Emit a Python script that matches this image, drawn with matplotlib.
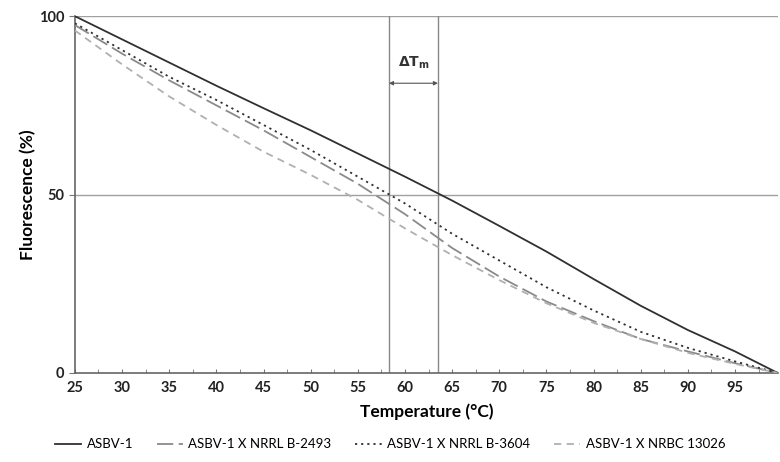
import numpy as np
import matplotlib.pyplot as plt
from matplotlib.ticker import MultipleLocator

plt.rcParams['font.family'] = ['Lato', 'DejaVu Sans']

# --- data ---
temp = [25, 30, 35, 40, 45, 50, 55, 60, 65, 70, 75, 80, 85, 90, 95, 99.5]
asbv1 = [100, 93.5, 87, 80.5, 74.2, 68, 61.5, 55, 48.3, 41.2, 34, 26.3, 18.8, 12, 6, 0]
b2493 = [97.5, 89.5, 82, 75, 68, 60.5, 53, 44.5, 35, 27, 20, 14.5, 9.5, 6, 2.7, 0]
b3604 = [98, 90.5, 83, 76.5, 69.5, 62.5, 55, 47.5, 39, 31.5, 24, 17.5, 11.5, 7, 3.2, 0]
nrbc13026 = [96, 86.5, 77.5, 69.5, 62, 55.5, 48.5, 40.5, 33, 26, 19.5, 14, 9.5, 5.6, 2.5, 0]

tm_low = 58.3
tm_high = 63.5

fig = plt.figure(figsize=(7.8, 4.62), dpi=100)
ax = fig.add_axes([0.096, 0.193, 0.902, 0.772])

# reference lines
for y in (50, 100):
    ax.axhline(y, color='#a0a0a0', lw=1.0, zorder=1)
for x in (tm_low, tm_high):
    ax.plot([x, x], [0, 100], color='#888888', lw=1.0, zorder=1)

ax.plot(temp, asbv1, color='#303030', lw=1.3, label='ASBV-1', zorder=3)
ax.plot(temp, b2493, color='#8a8a8a', lw=1.3, dashes=(9, 3),
        label='ASBV-1 X NRRL B-2493', zorder=3)
ax.plot(temp, b3604, color='#303030', lw=1.3, dashes=(1.2, 2.2),
        label='ASBV-1 X NRRL B-3604', zorder=3)
ax.plot(temp, nrbc13026, color='#b0b0b0', lw=1.3, dashes=(4, 3),
        label='ASBV-1 X NRBC 13026', zorder=3)

# delta Tm marker
ax.annotate('', xy=(tm_low, 81.2), xytext=(tm_high, 81.2),
            arrowprops=dict(arrowstyle='<|-|>', color='#555555', lw=0.8,
                            mutation_scale=6, shrinkA=0, shrinkB=0))
ax.text((tm_low + tm_high) / 2, 84.5, r'$\mathbf{\Delta T_m}$', ha='center', va='bottom',
        fontsize=10, color='#333333')

ax.set_xlim(25, 99.6)
ax.set_ylim(0, 100)
ax.set_xticks(range(25, 100, 5))
ax.xaxis.set_minor_locator(MultipleLocator(2.5))
ax.set_yticks([0, 50, 100])
ax.tick_params(axis='x', which='both', direction='in', length=3, color='#777777',
               labelsize=10.5, pad=6)
ax.tick_params(axis='y', direction='out', length=4, color='#777777', labelsize=10.5)
for lab in ax.get_xticklabels() + ax.get_yticklabels():
    lab.set_fontweight('bold')
    lab.set_color('#222222')

for side in ('top', 'right'):
    ax.spines[side].set_visible(False)
for side in ('left', 'bottom'):
    ax.spines[side].set_color('#666666')
    ax.spines[side].set_linewidth(1.2)

ax.set_xlabel('Temperature (°C)', fontsize=12.5, fontweight='bold', labelpad=6)
ax.set_ylabel('Fluorescence (%)', fontsize=12.5, fontweight='bold', labelpad=2)

fig.legend(loc='lower center', bbox_to_anchor=(0.5, 0.0), ncol=4, frameon=False,
           fontsize=9.5, handlelength=2.0, handletextpad=0.4, columnspacing=1.8)

fig.savefig('out.png', dpi=100)
